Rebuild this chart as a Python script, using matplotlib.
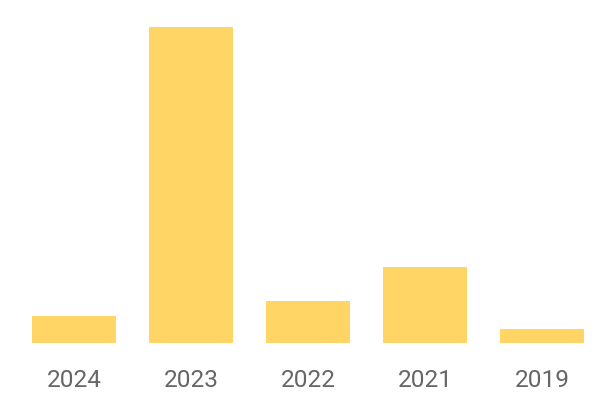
import matplotlib
matplotlib.use("Agg")
import matplotlib.pyplot as plt

categories = ["2024", "2023", "2022", "2021", "2019"]
values = [27, 316, 42, 76, 14]

fig = plt.figure(figsize=(6, 4), dpi=100)
ax = fig.add_axes([15.5/600, 1 - 343/400, 585/600, 316/400])
x = range(len(categories))
ax.bar(x, values, width=84/117, color="#FFD566")
ax.set_xlim(-0.5, len(categories) - 0.5)
ax.set_ylim(0, max(values))
ax.set_xticks(list(x))
ax.set_xticklabels(categories, fontsize=17.6, color="#666666", family=["Roboto", "DejaVu Sans"])
ax.tick_params(axis="x", length=0, pad=18.5)
ax.set_yticks([])
for s in ax.spines.values():
    s.set_visible(False)
fig.savefig("out.png", dpi=100)
